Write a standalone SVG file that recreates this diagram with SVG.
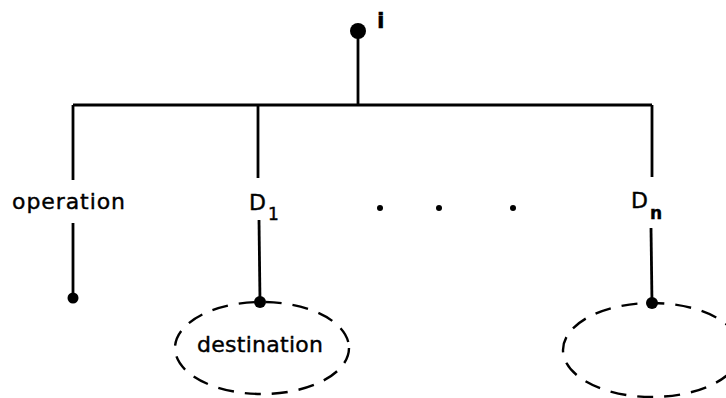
<svg xmlns="http://www.w3.org/2000/svg" width="726" height="398" viewBox="0 0 726 398">
<style>
.ln{stroke:#000;stroke-width:2.8;fill:none}
.dash{stroke:#000;stroke-width:2.4;fill:none;stroke-dasharray:16 11}
.t{font-family:"DejaVu Sans","Liberation Sans",sans-serif;font-size:22px;fill:#000;stroke:#000;stroke-width:0.4}
.cap{font-family:"DejaVu Sans","Liberation Sans",sans-serif;font-size:22px;fill:#000;stroke:#000;stroke-width:0.4}
.sub{font-family:"DejaVu Sans","Liberation Sans",sans-serif;font-size:17px;fill:#000;stroke:#000;stroke-width:0.4}
</style>
<rect width="726" height="398" fill="#fff"/>
<g id="connectors">
<line class="ln" x1="358" y1="31" x2="358" y2="105"/>
<line class="ln" x1="73" y1="105" x2="652" y2="105"/>
<line class="ln" x1="73" y1="105" x2="73" y2="180"/>
<line class="ln" x1="73" y1="223" x2="73" y2="298"/>
<line class="ln" x1="258" y1="105" x2="258" y2="178"/>
<line class="ln" x1="259" y1="220" x2="260" y2="302"/>
<line class="ln" x1="652" y1="105" x2="652" y2="177"/>
<line class="ln" x1="651" y1="228" x2="652" y2="303"/>
</g>
<g id="root">
<circle cx="358" cy="31" r="8"/>
<text class="t" x="377" y="28" font-weight="bold">i</text>
</g>
<g id="operation">
<text class="t" x="12" y="209" textLength="113" lengthAdjust="spacing">operation</text>
<circle cx="73" cy="298" r="5.5"/>
</g>
<g id="d1">
<text class="cap" x="249" y="210">D</text>
<text class="sub" x="268" y="220">1</text>
<circle cx="260" cy="302" r="6"/>
<ellipse class="dash" cx="262" cy="348" rx="87" ry="46"/>
<text class="t" x="197" y="352" textLength="126" lengthAdjust="spacing">destination</text>
</g>
<g id="ellipsis">
<circle cx="380" cy="208" r="3"/>
<circle cx="439" cy="208" r="3"/>
<circle cx="513" cy="208" r="3"/>
</g>
<g id="dn">
<text class="cap" x="631" y="208">D</text>
<text class="sub" x="650" y="219" font-weight="bold">n</text>
<circle cx="652" cy="303" r="6"/>
<ellipse class="dash" cx="652" cy="350" rx="89" ry="47"/>
</g>
</svg>
